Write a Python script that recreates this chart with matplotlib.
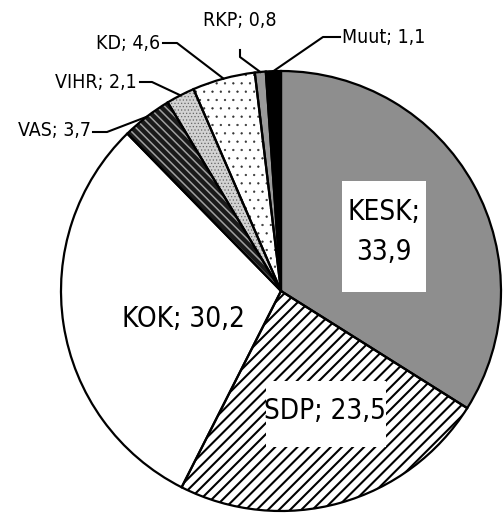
import matplotlib.pyplot as plt
import matplotlib.patches as mpatches
from matplotlib import font_manager
import numpy as np

puolueet = ['KESK', 'SDP', 'KOK', 'VAS', 'VIHR', 'KD', 'RKP', 'Muut']
osuudet = [33.9, 23.5, 30.2, 3.7, 2.1, 4.6, 0.8, 1.1]
arvot_teksti = ['33,9', '23,5', '30,2', '3,7', '2,1', '4,6', '0,8', '1,1']

# täyttö, kuvio, kuvion väri
taytot = ['#8e8e8e', 'white', 'white', '#1a1a1a', '#d2d2d2', 'white', '#9a9a9a', 'black']
kuviot = [None, '///', None, '\\\\\\\\', '.....', '..', None, None]
kuvio_varit = ['black', 'black', 'black', '#a0a0a0', '#666666', '#333333', 'black', 'black']
kuvio_paksuus = [1, 1.5, 1, 1.1, 0.5, 0.4, 1, 1]

# kapea fontti jos löytyy
kapeat = [f for f in font_manager.fontManager.ttflist
          if 'Narrow' in f.name or 'Condensed' in f.name or 'condensed' in str(f.stretch)]
if kapeat:
    fontti = dict(family=[kapeat[0].name, 'DejaVu Sans'], stretch=kapeat[0].stretch)
    iso, pieni = 20, 14
else:
    fontti = dict(family=['Liberation Sans', 'DejaVu Sans'])
    iso, pieni = 17.5, 12.5

fig = plt.figure(figsize=(5.04, 5.14), dpi=100)
ax = fig.add_axes([61 / 504, 3 / 514, 440 / 504, 440 / 514])

# täytöt ja kuviot
wedges, _ = ax.pie(osuudet, startangle=90, counterclock=False, radius=1,
                   wedgeprops=dict(linewidth=0))
for w, f, h, c, lw in zip(wedges, taytot, kuviot, kuvio_varit, kuvio_paksuus):
    w.set_facecolor(f)
    w.set_hatch(h)
    w.set_edgecolor(c)
    if hasattr(w, 'set_hatch_linewidth'):
        w.set_hatch_linewidth(lw)

# reunaviivat
ax.pie(osuudet, startangle=90, counterclock=False, radius=1,
       wedgeprops=dict(facecolor='none', edgecolor='black', linewidth=1.6))
ax.set_xlim(-1, 1)
ax.set_ylim(-1, 1)
ax.set_aspect('equal')
ax.axis('off')


def px(x, y):
    # kuvan pikselit -> akselin koordinaatit
    return (x - 281) / 220, (291 - y) / 220


# isot tekstit valkoisella taustalla
for (x0, y0, x1, y1) in [(342, 181, 426, 292), (266, 381, 386, 447)]:
    a = px(x0, y1)
    b = px(x1, y0)
    ax.add_patch(mpatches.Rectangle(a, b[0] - a[0], b[1] - a[1],
                                    facecolor='white', edgecolor='none', zorder=3))

ax.text(*px(384, 232), 'KESK;\n33,9', ha='center', va='center', fontsize=iso,
        linespacing=1.55, zorder=4, **fontti)
ax.text(*px(325, 411), 'SDP; 23,5', ha='center', va='center', fontsize=iso, zorder=4, **fontti)
ax.text(*px(183, 319), 'KOK; 30,2', ha='center', va='center', fontsize=iso, zorder=4, **fontti)

# pienten osuuksien selitteet ja viivat
kumul = np.cumsum(osuudet) - np.array(osuudet) / 2
keski_kulma = 90 - kumul / sum(osuudet) * 360

selitteet = {
    'VAS': dict(polku=[(107, 132), (93, 132)], teksti=(91, 130), ha='right'),
    'VIHR': dict(polku=[(152, 82), (140, 82)], teksti=(137, 82), ha='right'),
    'KD': dict(polku=[(177, 43), (163, 43)], teksti=(160, 43), ha='right'),
    'RKP': dict(polku=[(240, 57), (240, 50)], teksti=(240, 20), ha='center'),
    'Muut': dict(polku=[(323, 37), (340, 37)], teksti=(342, 37), ha='left'),
}
for i, nimi in enumerate(puolueet):
    if nimi not in selitteet:
        continue
    s = selitteet[nimi]
    kulma = np.deg2rad(keski_kulma[i])
    xs = [np.cos(kulma)] + [px(*p)[0] for p in s['polku']]
    ys = [np.sin(kulma)] + [px(*p)[1] for p in s['polku']]
    ax.plot(xs, ys, color='black', linewidth=1.5, clip_on=False, zorder=5)
    ax.text(*px(*s['teksti']), f'{nimi}; {arvot_teksti[i]}', ha=s['ha'], va='center',
            fontsize=pieni, clip_on=False, **fontti)

fig.savefig('out.png', dpi=100)
